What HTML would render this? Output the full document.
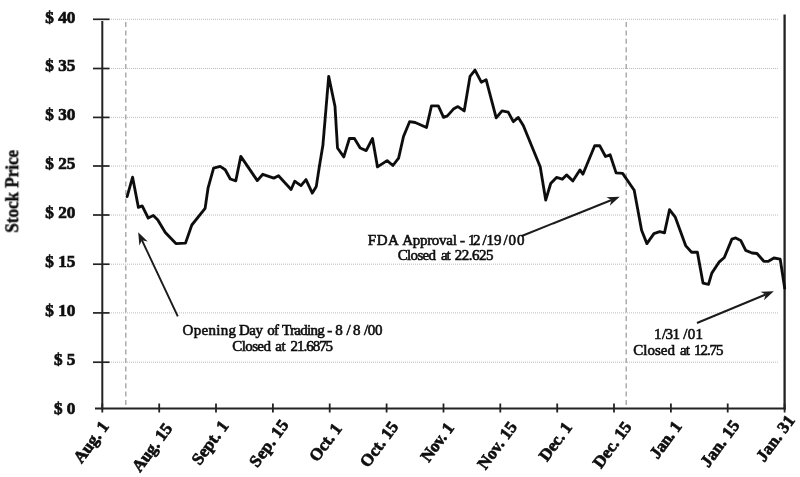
<!DOCTYPE html>
<html lang="en"><head><meta charset="utf-8"><title>Stock Price</title>
<style>
html,body{margin:0;padding:0;background:#fff;}
body{width:800px;height:477px;overflow:hidden;}
svg{display:block;}
text{font-family:"Liberation Serif","DejaVu Serif",serif;fill:#111;}
.yl{font-size:17.2px;font-weight:bold;text-anchor:end;stroke:#111;stroke-width:0.7px;}
.xl{font-size:17px;font-weight:bold;text-anchor:end;stroke:#111;stroke-width:0.7px;}
.an{font-size:15px;text-anchor:start;stroke:#111;stroke-width:0.6px;}
.ax{stroke:#222;stroke-width:2;fill:none;}
.gr{stroke:#bcbcbc;stroke-width:1;stroke-dasharray:1 1;fill:none;}
.vd{stroke:#9c9c9c;stroke-width:1.25;stroke-dasharray:5 3.4;fill:none;}
.ar{stroke:#1a1a1a;stroke-width:1.9;fill:none;}
</style></head><body>
<svg width="800" height="477" viewBox="0 0 800 477">
<defs><filter id="soft" x="0" y="0" width="800" height="477" filterUnits="userSpaceOnUse"><feGaussianBlur stdDeviation="0.55"/></filter></defs>
<rect width="800" height="477" fill="#fff"/>
<g filter="url(#soft)">

<line class="gr" x1="109" y1="19.3" x2="778.5" y2="19.3"/>
<line class="gr" x1="109" y1="68.5" x2="778.5" y2="68.5"/>
<line class="gr" x1="109" y1="117.4" x2="778.5" y2="117.4"/>
<line class="gr" x1="109" y1="166" x2="778.5" y2="166"/>
<line class="gr" x1="109" y1="215" x2="778.5" y2="215"/>
<line class="gr" x1="109" y1="264.2" x2="778.5" y2="264.2"/>
<line class="gr" x1="109" y1="312.9" x2="778.5" y2="312.9"/>
<line class="gr" x1="109" y1="362.2" x2="778.5" y2="362.2"/>
<line class="vd" x1="125.8" y1="22" x2="125.8" y2="408"/>
<line class="vd" x1="626.2" y1="22" x2="626.2" y2="408"/>
<line class="ax" x1="102.3" y1="21" x2="102.3" y2="409.5"/>
<line class="ax" x1="784.6" y1="14.5" x2="784.6" y2="409.5" style="stroke-width:2.3"/>
<line class="ax" x1="95" y1="408.5" x2="785.6" y2="408.5"/>
<line class="ax" x1="93" y1="19.3" x2="109.5" y2="19.3" style="stroke-width:1.7"/>
<line class="ax" x1="93" y1="68.5" x2="109.5" y2="68.5" style="stroke-width:1.7"/>
<line class="ax" x1="93" y1="117.4" x2="109.5" y2="117.4" style="stroke-width:1.7"/>
<line class="ax" x1="93" y1="166" x2="109.5" y2="166" style="stroke-width:1.7"/>
<line class="ax" x1="93" y1="215" x2="109.5" y2="215" style="stroke-width:1.7"/>
<line class="ax" x1="93" y1="264.2" x2="109.5" y2="264.2" style="stroke-width:1.7"/>
<line class="ax" x1="93" y1="312.9" x2="109.5" y2="312.9" style="stroke-width:1.7"/>
<line class="ax" x1="93" y1="362.2" x2="109.5" y2="362.2" style="stroke-width:1.7"/>
<line class="ax" x1="102.3" y1="403.5" x2="102.3" y2="412.5" style="stroke-width:1.8"/>
<line class="ax" x1="159.2" y1="403.5" x2="159.2" y2="412.5" style="stroke-width:1.8"/>
<line class="ax" x1="216.0" y1="403.5" x2="216.0" y2="412.5" style="stroke-width:1.8"/>
<line class="ax" x1="272.9" y1="403.5" x2="272.9" y2="412.5" style="stroke-width:1.8"/>
<line class="ax" x1="329.7" y1="403.5" x2="329.7" y2="412.5" style="stroke-width:1.8"/>
<line class="ax" x1="386.6" y1="403.5" x2="386.6" y2="412.5" style="stroke-width:1.8"/>
<line class="ax" x1="443.5" y1="403.5" x2="443.5" y2="412.5" style="stroke-width:1.8"/>
<line class="ax" x1="500.3" y1="403.5" x2="500.3" y2="412.5" style="stroke-width:1.8"/>
<line class="ax" x1="557.2" y1="403.5" x2="557.2" y2="412.5" style="stroke-width:1.8"/>
<line class="ax" x1="614.0" y1="403.5" x2="614.0" y2="412.5" style="stroke-width:1.8"/>
<line class="ax" x1="670.9" y1="403.5" x2="670.9" y2="412.5" style="stroke-width:1.8"/>
<line class="ax" x1="727.7" y1="403.5" x2="727.7" y2="412.5" style="stroke-width:1.8"/>
<line class="ax" x1="784.6" y1="403.5" x2="784.6" y2="412.5" style="stroke-width:1.8"/>
<text class="yl" x="75.4" y="22.8">$ 40</text>
<text class="yl" x="75.4" y="71.0">$ 35</text>
<text class="yl" x="75.4" y="120.0">$ 30</text>
<text class="yl" x="75.4" y="168.8">$ 25</text>
<text class="yl" x="75.4" y="218.0">$ 20</text>
<text class="yl" x="75.4" y="267.2">$ 15</text>
<text class="yl" x="75.4" y="315.8">$ 10</text>
<text class="yl" x="75.4" y="364.7">$ 5</text>
<text class="yl" x="75.4" y="414.2">$ 0</text>
<text class="xl" transform="translate(109.5 426.4) rotate(-53.5)" textLength="47.2" lengthAdjust="spacing">Aug. 1</text>
<text class="xl" transform="translate(173.0 428.4) rotate(-53.5)" textLength="55.6" lengthAdjust="spacing">Aug. 15</text>
<text class="xl" transform="translate(229.2 426.0) rotate(-53.5)" textLength="49.7" lengthAdjust="spacing">Sept. 1</text>
<text class="xl" transform="translate(289.3 425.0) rotate(-53.5)" textLength="53.7" lengthAdjust="spacing">Sep. 15</text>
<text class="xl" transform="translate(342.6 428.6) rotate(-53.5)" textLength="42.5" lengthAdjust="spacing">Oct. 1</text>
<text class="xl" transform="translate(399.0 426.6) rotate(-53.5)" textLength="52.0" lengthAdjust="spacing">Oct. 15</text>
<text class="xl" transform="translate(454.7 427.9) rotate(-53.5)" textLength="43.6" lengthAdjust="spacing">Nov. 1</text>
<text class="xl" transform="translate(517.9 426.9) rotate(-53.5)" textLength="54.3" lengthAdjust="spacing">Nov. 15</text>
<text class="xl" transform="translate(572.7 427.5) rotate(-53.5)" textLength="43.2" lengthAdjust="spacing">Dec. 1</text>
<text class="xl" transform="translate(632.3 426.9) rotate(-53.5)" textLength="52.7" lengthAdjust="spacing">Dec. 15</text>
<text class="xl" transform="translate(682.5 426.4) rotate(-53.5)" textLength="41.5" lengthAdjust="spacing">Jan. 1</text>
<text class="xl" transform="translate(740.2 425.4) rotate(-53.5)" textLength="53.4" lengthAdjust="spacing">Jan. 15</text>
<text class="xl" transform="translate(795.5 420.4) rotate(-53.5)" textLength="52.6" lengthAdjust="spacing">Jan. 31</text>
<text transform="translate(18.2 191.3) rotate(-90) scale(1 1.12)" textLength="83" lengthAdjust="spacing" style="font-size:17.2px;font-weight:bold;text-anchor:middle;stroke:#111;stroke-width:0.4px">Stock Price</text>
<path d="M127.1 196.6 L132.6 177.2 L138.4 207.4 L142.2 205.9 L148.2 218.0 L153.3 215.5 L157.8 220.0 L165.3 232.6 L175.9 243.6 L185.5 243.1 L191.8 225.0 L205.1 208.4 L208.1 187.8 L213.6 168.2 L220.2 166.4 L225.2 169.7 L230.3 179.0 L235.8 180.8 L240.8 156.4 L257.3 180.6 L262.8 174.3 L273.8 178.1 L278.5 175.8 L291.1 189.5 L294.7 181.2 L301.0 185.6 L306.0 179.6 L312.3 193.1 L316.3 186.4 L319.4 166.2 L322.9 145.3 L328.7 76.4 L335.0 106.5 L337.5 148.0 L343.8 156.9 L349.4 138.5 L354.4 138.5 L360.2 148.0 L366.2 150.6 L372.5 138.5 L377.5 166.9 L387.1 160.6 L392.9 165.5 L398.6 158.1 L403.5 136.5 L409.6 121.7 L415.2 122.5 L426.5 127.5 L431.5 105.8 L438.3 105.8 L443.6 117.4 L447.4 115.9 L453.4 109.1 L457.9 106.6 L464.2 110.9 L470.0 76.4 L475.0 70.1 L481.3 82.2 L486.1 79.7 L496.2 117.9 L502.0 110.9 L508.2 112.1 L513.3 121.7 L518.3 117.4 L523.3 125.5 L540.2 166.8 L545.7 200.1 L550.7 183.5 L556.5 177.4 L562.3 179.2 L566.5 174.9 L572.8 180.9 L579.9 169.9 L582.9 174.2 L594.7 145.7 L599.7 145.7 L605.5 156.5 L610.1 154.8 L616.1 172.9 L622.6 173.4 L634.2 190.3 L641.6 230.3 L646.9 243.6 L653.9 233.6 L659.7 231.6 L664.5 232.8 L669.5 209.7 L675.3 217.2 L685.8 245.9 L691.6 252.2 L697.4 252.2 L703.0 283.1 L708.5 284.4 L711.8 273.1 L719.3 261.8 L724.3 257.5 L731.9 239.1 L735.7 237.9 L740.7 240.4 L745.7 250.4 L752.0 253.0 L757.0 253.5 L763.8 261.3 L768.4 261.3 L773.9 258.0 L780.2 259.2 L784.7 288.2" fill="none" stroke="#111" stroke-width="2.85" stroke-linejoin="round" stroke-linecap="round"/>
<line class="ar" x1="177.8" y1="316.3" x2="141.9" y2="240.2"/><path d="M138.2 232.3 L147.7 241.6 L141.9 240.2 L139.4 245.6 Z" fill="#1a1a1a"/>
<line class="ar" x1="521.7" y1="236.0" x2="611.6" y2="200.0"/><path d="M619.7 196.8 L609.8 205.7 L611.6 200.0 L606.4 197.2 Z" fill="#1a1a1a"/>
<line class="ar" x1="697.0" y1="323.0" x2="765.7" y2="294.5"/><path d="M773.8 291.2 L764.0 300.2 L765.7 294.5 L760.5 291.7 Z" fill="#1a1a1a"/>
<text class="an" y="335"><tspan x="182.5" textLength="53.5" lengthAdjust="spacing">Opening</tspan> <tspan x="239.0" textLength="23.9" lengthAdjust="spacing">Day</tspan> <tspan x="267.2" textLength="11.8" lengthAdjust="spacing">of</tspan> <tspan x="282.0" textLength="42.7" lengthAdjust="spacing">Trading</tspan> <tspan x="327.2" textLength="4.8" lengthAdjust="spacing">-</tspan> <tspan x="335.3" textLength="7.4" lengthAdjust="spacing">8</tspan><tspan x="346.5" textLength="14.0" lengthAdjust="spacing">/8</tspan><tspan x="364.0" textLength="18.5" lengthAdjust="spacing">/00</tspan></text>
<text class="an" y="351.3"><tspan x="232.3" textLength="38.6" lengthAdjust="spacing">Closed</tspan> <tspan x="275.3" textLength="10.4" lengthAdjust="spacing">at</tspan> <tspan x="290.6" textLength="42.5" lengthAdjust="spacing">21.6875</tspan></text>
<text class="an" y="244.8"><tspan x="367.8" textLength="30.3" lengthAdjust="spacing">FDA</tspan> <tspan x="402.2" textLength="54.6" lengthAdjust="spacing">Approval</tspan> <tspan x="460.0" textLength="5.0" lengthAdjust="spacing">-</tspan> <tspan x="468.0" textLength="12.5" lengthAdjust="spacing">12</tspan><tspan x="482.5" textLength="19.0" lengthAdjust="spacing">/19</tspan><tspan x="503.5" textLength="21.0" lengthAdjust="spacing">/00</tspan></text>
<text class="an" y="260"><tspan x="397.8" textLength="38.2" lengthAdjust="spacing">Closed</tspan> <tspan x="440.9" textLength="9.7" lengthAdjust="spacing">at</tspan> <tspan x="454.7" textLength="38.8" lengthAdjust="spacing">22.625</tspan></text>
<text class="an" y="339.3"><tspan x="654.0" textLength="5.2" lengthAdjust="spacing">1</tspan><tspan x="662.0" textLength="18.0" lengthAdjust="spacing">/31</tspan><tspan x="683.2" textLength="19.8" lengthAdjust="spacing">/01</tspan></text>
<text class="an" y="355.3"><tspan x="633.2" textLength="41.8" lengthAdjust="spacing">Closed</tspan> <tspan x="680.0" textLength="9.8" lengthAdjust="spacing">at</tspan> <tspan x="694.0" textLength="29.5" lengthAdjust="spacing">12.75</tspan></text>
</g></svg></body></html>
